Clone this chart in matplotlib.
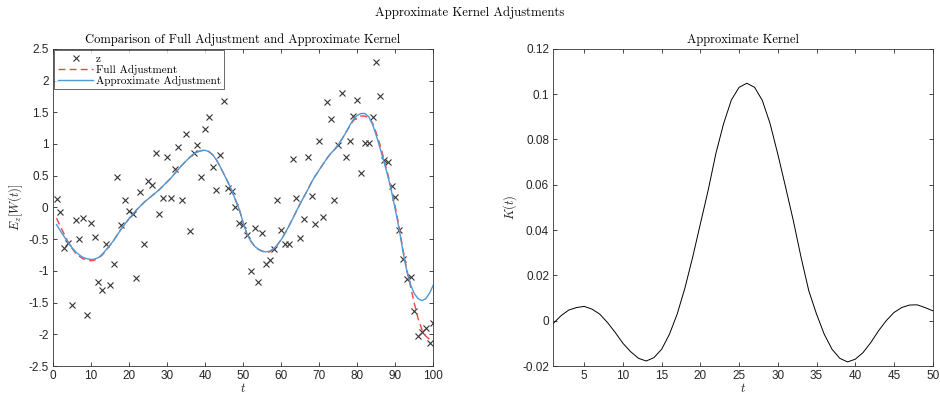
import numpy as np
import matplotlib
matplotlib.use('Agg')
import matplotlib.pyplot as plt
from matplotlib.ticker import FuncFormatter

plt.rcParams['font.family'] = ['Liberation Sans', 'DejaVu Sans']
plt.rcParams['mathtext.fontset'] = 'cm'
plt.rcParams['axes.unicode_minus'] = False

# 관측값 z (t = 1..100)
t = np.arange(1, 101)
z = [0.14, -0.07, -0.64, -0.56, -1.54, -0.20, -0.50, -0.16, -1.70, -0.25,
     -0.46, -1.17, -1.30, -0.58, -1.23, -0.89, 0.48, -0.28, 0.12, -0.05,
     -0.10, -1.12, 0.24, -0.58, 0.41, 0.36, 0.86, -0.10, 0.15, 0.80,
     0.15, 0.61, 0.95, 0.12, 1.15, -0.37, 0.86, 0.99, 0.48, 1.24,
     1.43, 0.63, 0.28, 0.82, 1.67, 0.30, 0.26, 0.00, -0.25, -0.27,
     -0.44, -1.01, -0.32, -1.18, -0.40, -0.90, -0.83, -0.66, 0.11, -0.36,
     -0.58, -0.58, 0.76, 0.15, -0.48, -0.18, 0.80, 0.18, -0.26, 1.04,
     -0.15, 1.66, 1.39, 0.12, 0.98, 1.80, 0.80, 1.04, 1.44, 1.70,
     0.54, 1.02, 1.02, 1.43, 2.29, 1.75, 0.74, 0.71, 0.33, 0.17,
     -0.36, -0.82, -1.13, -1.10, -1.64, -2.02, -1.96, -1.90, -2.13, -1.82]

# 근사 커널로 조정한 결과
approx_adj = [-0.27, -0.37, -0.46, -0.55, -0.63, -0.70, -0.75, -0.79, -0.81, -0.82,
              -0.815, -0.79, -0.74, -0.67, -0.60, -0.52, -0.43, -0.34, -0.26, -0.18,
              -0.11, -0.04, 0.02, 0.08, 0.13, 0.18, 0.23, 0.28, 0.34, 0.40,
              0.46, 0.53, 0.60, 0.67, 0.73, 0.79, 0.84, 0.875, 0.895, 0.90,
              0.88, 0.83, 0.75, 0.64, 0.52, 0.40, 0.27, 0.12, -0.03, -0.24,
              -0.42, -0.53, -0.61, -0.66, -0.69, -0.70, -0.69, -0.65, -0.59, -0.51,
              -0.41, -0.30, -0.18, -0.06, 0.06, 0.17, 0.28, 0.40, 0.50, 0.59,
              0.68, 0.77, 0.85, 0.91, 0.99, 1.08, 1.18, 1.29, 1.39, 1.45,
              1.48, 1.48, 1.43, 1.31, 1.13, 0.93, 0.72, 0.50, 0.25, -0.04,
              -0.34, -0.70, -1.00, -1.22, -1.36, -1.44, -1.47, -1.44, -1.35, -1.22]

# 전체 조정 결과
full_adj = [-0.17, -0.30, -0.42, -0.54, -0.64, -0.72, -0.77, -0.81, -0.83, -0.84,
            -0.83, -0.80, -0.75, -0.68, -0.60, -0.52, -0.43, -0.34, -0.26, -0.18,
            -0.11, -0.04, 0.02, 0.08, 0.13, 0.18, 0.23, 0.28, 0.34, 0.40,
            0.46, 0.53, 0.60, 0.67, 0.73, 0.79, 0.84, 0.875, 0.895, 0.90,
            0.88, 0.83, 0.75, 0.64, 0.52, 0.40, 0.27, 0.12, -0.03, -0.24,
            -0.42, -0.53, -0.61, -0.66, -0.69, -0.71, -0.70, -0.66, -0.59, -0.51,
            -0.41, -0.30, -0.18, -0.06, 0.06, 0.17, 0.28, 0.40, 0.50, 0.59,
            0.68, 0.77, 0.85, 0.91, 0.99, 1.08, 1.18, 1.28, 1.37, 1.42,
            1.44, 1.44, 1.41, 1.33, 1.17, 0.98, 0.76, 0.53, 0.28, 0.00,
            -0.31, -0.67, -0.98, -1.25, -1.52, -1.76, -1.93, -2.03, -2.08, -2.11]

# 근사 커널 K(t), t = 1..50
t_k = np.arange(1, 51)
kernel = [-0.0012, 0.0022, 0.0047, 0.0058, 0.0063, 0.0051, 0.0029, -0.0008, -0.0052, -0.0100,
          -0.0137, -0.0166, -0.0178, -0.0163, -0.0126, -0.0060, 0.0029, 0.0144, 0.0280, 0.0428,
          0.0575, 0.0738, 0.0870, 0.0974, 0.1030, 0.1048, 0.1030, 0.0972, 0.0870, 0.0735,
          0.0590, 0.0442, 0.0280, 0.0132, 0.0029, -0.0060, -0.0126, -0.0166, -0.0182, -0.0170,
          -0.0141, -0.0097, -0.0045, 0.0000, 0.0036, 0.0058, 0.0069, 0.0070, 0.0058, 0.0044]

fig = plt.figure(figsize=(9.4, 3.99), dpi=100)
ax1 = fig.add_axes([0.0561, 0.0827, 0.405, 0.795])
ax2 = fig.add_axes([0.5886, 0.0827, 0.4036, 0.795])

serif = 'cmr10'
fmt = FuncFormatter(lambda v, p: '%g' % round(v, 4))
axis_col = '#262626'


def style_axes(ax):
    ax.tick_params(direction='in', top=True, right=True, length=3, width=0.6,
                   labelsize=8.5, colors=axis_col, pad=3)
    for s in ax.spines.values():
        s.set_linewidth(0.6)
        s.set_color('#333333')
    ax.xaxis.set_major_formatter(fmt)
    ax.yaxis.set_major_formatter(fmt)


# 왼쪽: 전체 조정 vs 근사 커널
ax1.plot(t, z, 'x', color='#333333', markersize=5, markeredgewidth=0.8, label='z')
ax1.plot(t, full_adj, '--', color='#ff4040', linewidth=1.0, dashes=(5, 3),
         label='Full Adjustment')
ax1.plot(t, approx_adj, '-', color='#4a9ad6', linewidth=1.0, label='Approximate Adjustment')
ax1.set_xlim(0, 100)
ax1.set_ylim(-2.5, 2.5)
ax1.set_xticks(np.arange(0, 101, 10))
ax1.set_yticks(np.arange(-2.5, 2.51, 0.5))
style_axes(ax1)
ax1.set_title('Comparison of Full Adjustment and Approximate Kernel',
              fontsize=9, family=serif, pad=4)
ax1.set_xlabel('$t$', fontsize=9, labelpad=0, color=axis_col)
ax1.set_ylabel('$E_z[W(t)]$', fontsize=9, labelpad=2, color=axis_col)
leg = ax1.legend(loc='upper left', prop={'family': serif, 'size': 8},
                 frameon=True, fancybox=False, borderaxespad=0.15,
                 handlelength=3.2, handletextpad=0.2, labelspacing=0.1,
                 borderpad=0.3)
leg.get_frame().set_edgecolor('#262626')
leg.get_frame().set_linewidth(0.6)

# 오른쪽: 근사 커널
ax2.plot(t_k, kernel, '-', color='black', linewidth=0.7)
ax2.set_xlim(1, 50)
ax2.set_ylim(-0.02, 0.12)
ax2.set_xticks(np.arange(5, 51, 5))
ax2.set_yticks(np.arange(-0.02, 0.121, 0.02))
style_axes(ax2)
ax2.set_title('Approximate Kernel', fontsize=9, family=serif, pad=4)
ax2.set_xlabel('$t$', fontsize=9, labelpad=0, color=axis_col)
ax2.set_ylabel('$K(t)$', fontsize=9, labelpad=2, color=axis_col)

fig.suptitle('Approximate Kernel Adjustments', fontsize=9.2, family=serif, y=0.985)

fig.savefig('out.png', dpi=100)
